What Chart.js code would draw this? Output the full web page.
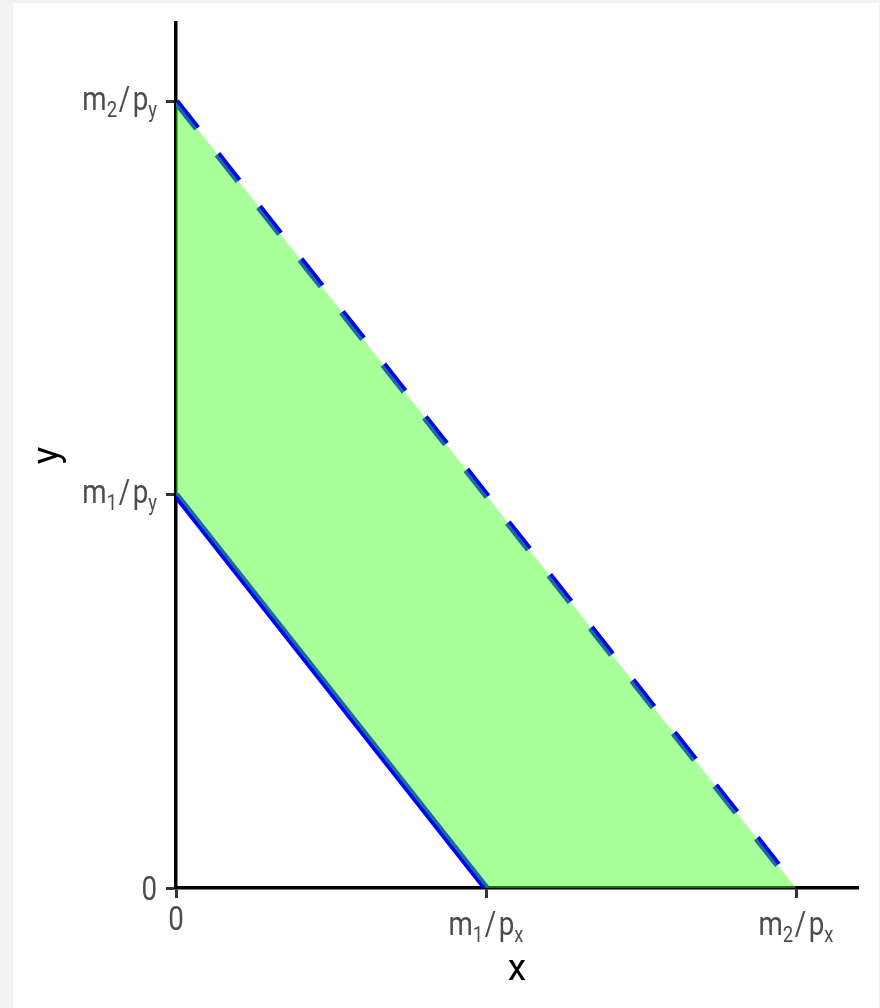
<!DOCTYPE html>
<html>
<head>
<meta charset="utf-8">
<script src="https://cdn.jsdelivr.net/npm/chart.js@4.4.1/dist/chart.umd.min.js"></script>
<style>
html,body{margin:0;padding:0;background:#f3f3f3;}
canvas{display:block;}
</style>
</head>
<body>
<canvas id="c" width="880" height="1008"></canvas>
<script>
// ---- data ----
const regionX = [0, 1, 2];
const regionUpper = [2, 1, 0];
const regionLower = [1, 0, 0];
const budget1X = [0, 1];
const budget1Y = [1, 0];
const budget2X = [0, 2];
const budget2Y = [2, 0];
const xTickValues = [0, 1, 2];
const xTickLabels = ['0', 'm_1/p_x', 'm_2/p_x'];
const yTickValues = [0, 1, 2];
const yTickLabels = ['0', 'm_1/p_y', 'm_2/p_y'];
const axisMax = 2.2;
const xTitle = 'x';
const yTitle = 'y';

const pts = (xs, ys) => xs.map((x, i) => ({x: x, y: ys[i]}));

// ---- styles ----
const FILL = 'rgba(56,255,22,0.43)';
const BLUE = '#0000ff';
const LABEL_FAMILY = 'Roboto, "Open Sans", sans-serif';
const MAIN = 33, SUB = 22, SQX = 0.84, SUBDROP = 7;

function parseLabel(s) {
  const parts = [];
  let i = 0;
  while (i < s.length) {
    if (s[i] === '_') { parts.push({t: s[i + 1], sub: true}); i += 2; }
    else { parts.push({t: s[i], sub: false}); i++; }
  }
  return parts;
}
function layoutLabel(ctx, s) {
  const parts = parseLabel(s);
  let w = 0;
  parts.forEach(p => {
    ctx.font = (p.sub ? SUB : MAIN) + 'px ' + LABEL_FAMILY;
    p.pre = p.t === '/' ? 2 : 0;
    p.post = p.t === '/' ? 3 : 0;
    p.w = ctx.measureText(p.t).width;
    w += p.pre + p.w + p.post;
  });
  return {parts: parts, w: w};
}
function drawLabel(ctx, s, x, baseline, align) {
  const L = layoutLabel(ctx, s);
  const total = L.w * SQX;
  let left = align === 'right' ? x - total : x - total / 2;
  ctx.save();
  ctx.translate(left, baseline);
  ctx.scale(SQX, 1);
  ctx.fillStyle = '#4d4d4d';
  ctx.textAlign = 'left';
  ctx.textBaseline = 'alphabetic';
  let cx = 0;
  L.parts.forEach(p => {
    ctx.font = (p.sub ? SUB : MAIN) + 'px ' + LABEL_FAMILY;
    cx += p.pre;
    ctx.fillText(p.t, cx, p.sub ? SUBDROP : 0);
    cx += p.w + p.post;
  });
  ctx.restore();
}

const bgPlugin = {
  id: 'bg',
  beforeDraw(chart) {
    const ctx = chart.ctx;
    ctx.save();
    ctx.fillStyle = '#f3f3f3';
    ctx.fillRect(0, 0, chart.width, chart.height);
    ctx.fillStyle = '#ffffff';
    ctx.fillRect(13, 3, 866, 1005);
    ctx.restore();
  }
};

const labelPlugin = {
  id: 'ticklabels',
  afterDraw(chart) {
    const ctx = chart.ctx;
    const xs = chart.scales.x, ys = chart.scales.y;
    const area = chart.chartArea;
    xTickValues.forEach((v, i) => {
      const lab = xTickLabels[i];
      const px = xs.getPixelForValue(v);
      const isPlain = lab.indexOf('_') < 0;
      drawLabel(ctx, lab, px, area.bottom + (isPlain ? 42 : 47), 'center');
    });
    yTickValues.forEach((v, i) => {
      const lab = yTickLabels[i];
      const py = ys.getPixelForValue(v);
      const isPlain = lab.indexOf('_') < 0;
      drawLabel(ctx, lab, area.left - 19, py + (isPlain ? 12 : 8.5), 'right');
    });
  }
};

new Chart(document.getElementById('c'), {
  type: 'line',
  data: {
    datasets: [
      {label: 'region', data: pts(regionX, regionUpper), borderWidth: 0, pointRadius: 0,
       fill: 1, backgroundColor: FILL, borderColor: 'rgba(0,0,0,0)', order: 0},
      {label: 'regionLower', data: pts(regionX, regionLower), borderWidth: 0, pointRadius: 0,
       fill: false, borderColor: 'rgba(0,0,0,0)', order: 0},
      {label: 'budget1', data: pts(budget1X, budget1Y), borderColor: BLUE, borderWidth: 7,
       pointRadius: 0, fill: false, order: 1},
      {label: 'budget2', data: pts(budget2X, budget2Y), borderColor: BLUE, borderWidth: 7,
       borderDash: [34, 33], pointRadius: 0, fill: false, order: 1}
    ]
  },
  options: {
    responsive: false,
    animation: false,
    devicePixelRatio: 1,
    layout: {padding: {left: 0, top: 23, right: 22, bottom: 0}},
    plugins: {legend: {display: false}, tooltip: {enabled: false}},
    elements: {line: {tension: 0, borderCapStyle: 'butt'}},
    scales: {
      x: {
        type: 'linear', min: 0, max: axisMax, z: 1,
        border: {display: true, color: '#000000', width: 3.5},
        grid: {display: true, drawOnChartArea: false, drawTicks: true, tickLength: 10, tickWidth: 3, tickColor: '#333333'},
        ticks: {display: false},
        afterBuildTicks: s => { s.ticks = xTickValues.map(v => ({value: v})); },
        afterFit: s => { s.height = 120; },
        title: {display: true, text: xTitle, color: '#000000', font: {family: 'Roboto', size: 37}, padding: {top: 0, bottom: 15}}
      },
      y: {
        type: 'linear', min: 0, max: axisMax, z: 1,
        border: {display: true, color: '#000000', width: 3.5},
        grid: {display: true, drawOnChartArea: false, drawTicks: true, tickLength: 10, tickWidth: 3, tickColor: '#333333'},
        ticks: {display: false},
        afterBuildTicks: s => { s.ticks = yTickValues.map(v => ({value: v})); },
        afterFit: s => { s.width = 176; },
        title: {display: true, text: yTitle, color: '#000000', font: {family: 'Roboto', size: 37}, padding: {top: 27, bottom: 0}}
      }
    }
  },
  plugins: [bgPlugin, labelPlugin]
});
</script>
</body>
</html>
